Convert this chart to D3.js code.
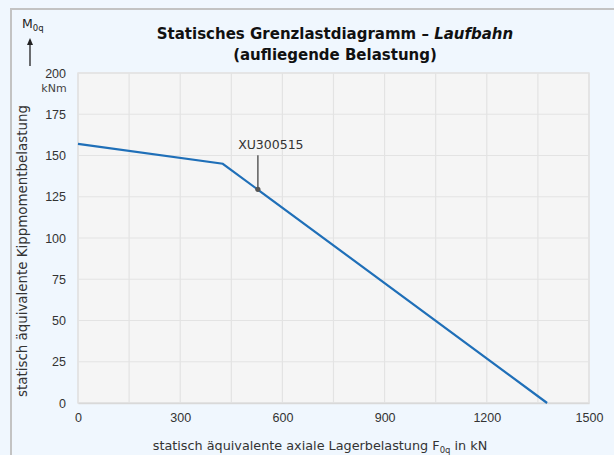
<!DOCTYPE html>
<html><head><meta charset="utf-8">
<script src="https://cdn.jsdelivr.net/npm/d3@7"></script>
<style>
html,body{margin:0;padding:0;background:#f0f7fe;}
svg{display:block;font-family:"DejaVu Sans",sans-serif;}
</style></head>
<body>
<svg id="c" width="614" height="455"></svg>
<script>
// Data
const loadX = [0, 425, 1377];          // F0q in kN
const momentY = [157, 145, 0];         // M0q in kNm
const markerX = [528];
const markerY = [129.5];
const markerLabel = ["XU300515"];
const xTicks = [0, 300, 600, 900, 1200, 1500];
const yTicks = [0, 25, 50, 75, 100, 125, 150, 175, 200];
const xGrid = d3.range(0, 1501, 150);

const svg = d3.select("#c");
const W = 614, H = 455;
const m = {l: 78, r: 589, t: 73, b: 403};
const x = d3.scaleLinear().domain([0, 1500]).range([m.l, m.r]);
const y = d3.scaleLinear().domain([0, 200]).range([m.b, m.t]);

// outer border (top and left)
svg.append("rect").attr("x", 0).attr("y", 0).attr("width", W).attr("height", H).attr("fill", "#f0f7fe");
svg.append("path").attr("d", `M11,${H} V9 H${W}`).attr("fill", "none").attr("stroke", "#c3c3c3").attr("stroke-width", 2);

// plot area
svg.append("rect").attr("x", m.l).attr("y", m.t).attr("width", m.r - m.l).attr("height", m.b - m.t)
  .attr("fill", "#f5f5f5").attr("stroke", "#e2e2e2").attr("stroke-width", 1.5);

// grid
const g = svg.append("g");
g.selectAll(".vx").data(xGrid).enter().append("line")
  .attr("x1", d => x(d)).attr("x2", d => x(d)).attr("y1", m.t).attr("y2", m.b)
  .attr("stroke", "#e3e3e3").attr("stroke-width", 1.2);
g.selectAll(".hy").data(yTicks).enter().append("line")
  .attr("x1", m.l).attr("x2", m.r).attr("y1", d => y(d)).attr("y2", d => y(d))
  .attr("stroke", "#e3e3e3").attr("stroke-width", 1.2);

// axes
const xAxis = d3.axisBottom(x).tickValues(xTicks).tickFormat(d3.format("d")).tickSize(0).tickPadding(10);
const ax = svg.append("g").attr("transform", `translate(0,${m.b})`).call(xAxis);
ax.select(".domain").attr("stroke", "#d9d9d9").attr("stroke-width", 1.5);
ax.selectAll("text").attr("font-size", 12.5).attr("fill", "#333");

const yAxis = d3.axisLeft(y).tickValues(yTicks).tickFormat(d3.format("d")).tickSize(0).tickPadding(12);
const ay = svg.append("g").attr("transform", `translate(${m.l},0)`).call(yAxis);
ay.select(".domain").remove();
ay.selectAll("text").attr("font-size", 12.5).attr("fill", "#333");

// unit under 200
svg.append("text").attr("x", 54).attr("y", y(200) + 19).attr("text-anchor", "middle")
  .attr("font-size", 11).attr("fill", "#444").text("kNm");

// line
const pts = loadX.map((d, i) => [d, momentY[i]]);
svg.append("path").datum(pts)
  .attr("d", d3.line().x(d => x(d[0])).y(d => y(d[1])))
  .attr("fill", "none").attr("stroke", "#1f6fb8").attr("stroke-width", 2.2);

// marker with label
markerX.forEach((mx, i) => {
  const px = x(mx), py = y(markerY[i]);
  svg.append("line").attr("x1", px).attr("x2", px).attr("y1", py - 34).attr("y2", py)
    .attr("stroke", "#666").attr("stroke-width", 1.6);
  svg.append("circle").attr("cx", px).attr("cy", py).attr("r", 2.6).attr("fill", "#555");
  svg.append("text").attr("x", px + 13).attr("y", py - 40).attr("text-anchor", "middle")
    .attr("font-size", 12.5).attr("fill", "#333").text(markerLabel[i]);
});

// title
const title = svg.append("text").attr("x", 335).attr("y", 39).attr("text-anchor", "middle")
  .attr("font-size", 15).attr("font-weight", "bold").attr("fill", "#111");
title.append("tspan").text("Statisches Grenzlastdiagramm – ");
title.append("tspan").attr("font-style", "italic").text("Laufbahn");
svg.append("text").attr("x", 335).attr("y", 60).attr("text-anchor", "middle")
  .attr("font-size", 15).attr("font-weight", "bold").attr("fill", "#111").text("(aufliegende Belastung)");

// y axis title
svg.append("text").attr("transform", `translate(27,251) rotate(-90)`).attr("text-anchor", "middle")
  .attr("font-size", 13.5).attr("textLength", 292).attr("lengthAdjust", "spacingAndGlyphs")
  .attr("fill", "#333").text("statisch äquivalente Kippmomentbelastung");

// M0q with arrow
const mt = svg.append("text").attr("x", 22).attr("y", 28).attr("font-size", 12.5).attr("fill", "#222");
mt.append("tspan").text("M");
mt.append("tspan").attr("font-size", 8.5).attr("dy", 3).text("0q");
svg.append("line").attr("x1", 30).attr("x2", 30).attr("y1", 66).attr("y2", 44)
  .attr("stroke", "#222").attr("stroke-width", 1.3);
svg.append("path").attr("d", "M27,45 L30,38 L33,45 Z").attr("fill", "#222");

// x axis title
const xt = svg.append("text").attr("x", 320).attr("y", 450).attr("text-anchor", "middle")
  .attr("font-size", 12.8).attr("fill", "#333");
xt.append("tspan").text("statisch äquivalente axiale Lagerbelastung F");
xt.append("tspan").attr("font-size", 8.5).attr("dy", 3).text("0q");
xt.append("tspan").attr("dy", -3).text(" in kN");
</script>
</body></html>
